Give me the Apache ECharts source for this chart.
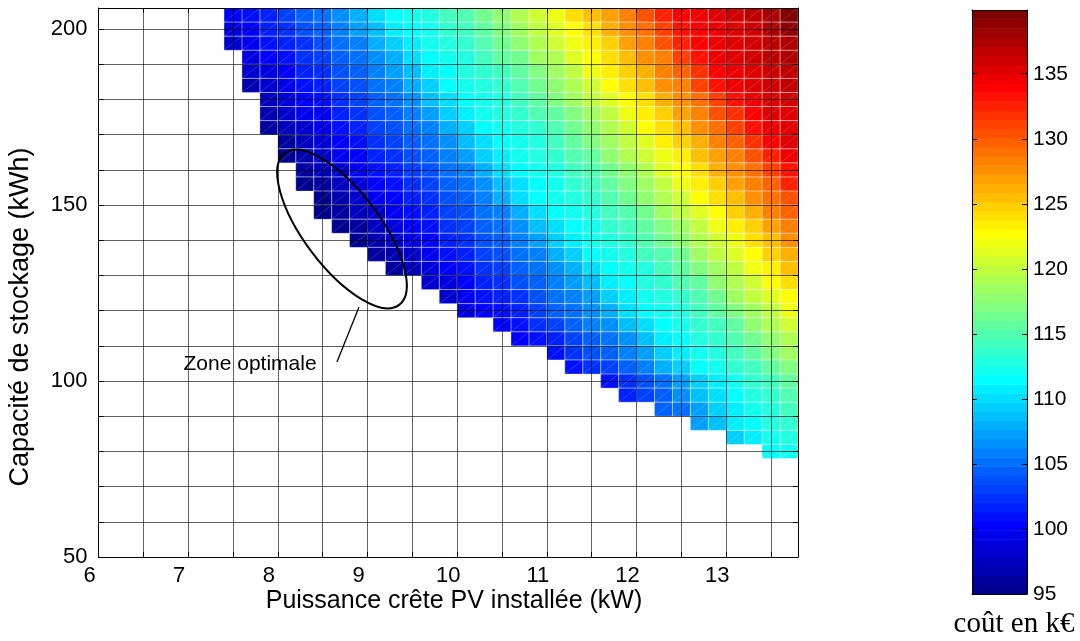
<!DOCTYPE html>
<html><head><meta charset="utf-8">
<script src="https://cdn.jsdelivr.net/npm/echarts@6/dist/echarts.min.js"></script>
<style>html,body{margin:0;padding:0;background:#fff}#c{width:1080px;height:641px}</style>
</head><body><div id="c"></div>
<script>
// ---- data ----
const xCenters = [7.5,7.7,7.9,8.1,8.3,8.5,8.7,8.9,9.1,9.3,9.5,9.7,9.9,10.1,10.3,10.5,10.7,10.9,11.1,11.3,11.5,11.7,11.9,12.1,12.3,12.5,12.7,12.9,13.1,13.3,13.5,13.7];
const yCenters = [204,200,196,192,188,184,180,176,172,168,164,160,156,152,148,144,140,136,132,128,124,120,116,112,108,104,100,96,92,88,84,80];
const rowFirstX = [7.5,7.5,7.5,7.7,7.7,7.7,7.9,7.9,7.9,8.1,8.1,8.3,8.3,8.5,8.5,8.7,8.9,9.1,9.3,9.7,9.9,10.1,10.5,10.7,11.1,11.3,11.7,11.9,12.3,12.7,13.1,13.5];
const costRows = [
 [100.0,101.0,102.0,103.1,104.2,105.3,106.4,108.2,110.0,111.5,112.3,113.0,114.0,115.2,116.5,118.0,119.2,120.8,122.3,123.8,125.3,127.0,128.0,130.5,132.3,133.8,134.5,135.0,135.8,136.5,137.5,139.9],
 [99.2,100.4,101.4,102.4,103.5,104.6,105.7,107.0,108.9,110.6,111.8,112.5,113.4,114.4,115.6,117.1,118.5,119.8,121.4,122.9,124.4,126.0,127.5,129.0,131.3,133.0,134.2,134.8,135.5,136.2,137.1,138.5],
 [98.3,99.6,100.7,101.7,102.7,103.8,104.9,106.0,107.7,109.5,111.1,112.1,112.8,113.7,114.9,116.2,117.6,119.0,120.5,122.0,123.5,125.1,126.8,128.0,130.1,132.2,133.7,134.7,135.3,136.1,136.8,137.7],
 [98.8,100.1,101.1,102.1,103.2,104.3,105.4,106.5,108.3,110.1,111.6,112.4,113.1,114.1,115.4,116.7,118.2,119.5,121.2,122.7,124.3,125.8,127.5,128.6,131.2,133.0,134.5,135.2,135.7,136.5,137.3],
 [97.9,99.2,100.4,101.4,102.4,103.5,104.6,105.7,107.1,109.0,110.6,111.8,112.6,113.5,114.6,115.9,117.3,118.8,120.2,121.7,123.3,124.9,126.5,128.0,129.6,132.0,133.7,134.9,135.6,136.2,137.0],
 [97.1,98.4,99.7,100.8,101.8,102.8,103.9,105.0,106.1,107.8,109.6,111.2,112.1,112.9,113.9,115.1,116.4,117.9,119.3,120.8,122.4,124.0,125.6,127.3,128.5,130.8,132.9,134.5,135.4,136.0,136.7],
 [97.5,98.8,100.1,101.1,102.1,103.2,104.3,105.4,106.6,108.4,110.2,111.6,112.4,113.2,114.2,115.4,116.8,118.3,119.6,121.3,122.8,124.4,126.0,127.7,129.2,131.4,133.2,134.6,135.4,135.9],
 [96.7,98.0,99.3,100.5,101.5,102.5,103.6,104.7,105.8,107.2,109.1,110.7,111.9,112.6,113.5,114.7,115.9,117.3,118.8,120.2,121.8,123.4,124.9,126.6,128.1,130.2,132.1,133.8,135.0,135.6],
 [95.9,97.2,98.5,99.8,100.8,101.8,102.8,103.9,105.1,106.2,107.9,109.7,111.2,112.2,112.9,113.9,115.1,116.4,117.9,119.3,120.9,122.4,124.1,125.6,127.4,128.9,130.9,132.9,134.4,135.4],
 [96.3,97.6,98.9,100.2,101.2,102.2,103.3,104.4,105.5,106.7,108.5,110.3,111.6,112.4,113.2,114.3,115.6,117.0,118.5,119.9,121.5,123.1,124.7,126.3,128.0,129.5,131.8,133.6,135.1],
 [95.5,96.8,98.1,99.4,100.5,101.5,102.5,103.6,104.7,105.8,107.3,109.2,110.8,111.9,112.7,113.6,114.8,116.0,117.5,119.0,120.5,122.1,123.7,125.3,127.0,128.6,130.4,132.6,134.3],
 [95.9,97.2,98.5,99.8,100.9,101.9,102.9,104.0,105.1,106.2,107.9,109.8,111.3,112.2,113.0,114.0,115.2,116.6,118.1,119.5,121.2,122.7,124.3,125.9,127.7,129.2,131.3,133.4],
 [95.0,96.4,97.7,99.0,100.2,101.2,102.2,103.3,104.4,105.5,106.8,108.6,110.3,111.7,112.5,113.3,114.4,115.7,117.2,118.7,120.1,121.8,123.4,125.0,126.6,128.3,129.9,132.3],
 [95.5,96.8,98.1,99.4,100.6,101.6,102.6,103.7,104.8,105.9,108.0,109.8,111.3,112.0,112.7,113.7,114.9,116.2,117.7,119.2,120.7,122.4,124.0,125.6,127.3,128.8,130.7],
 [95.0,95.9,97.2,98.5,99.8,100.9,101.9,102.9,104.0,105.1,106.2,107.9,109.8,111.3,112.2,113.0,114.0,115.3,116.7,118.2,119.6,121.3,122.9,124.5,126.2,128.0,129.4],
 [95.0,96.3,97.6,98.9,100.2,101.2,102.2,103.3,104.4,105.5,106.7,108.5,110.3,111.6,112.4,113.3,114.4,115.7,117.1,118.8,120.1,121.9,123.5,125.1,126.8,128.5],
 [95.4,96.7,98.0,99.3,100.5,101.5,102.5,103.6,104.7,105.8,107.2,109.1,110.7,111.9,112.6,113.6,114.8,116.1,117.6,119.2,120.7,122.3,124.0,125.6,127.4],
 [95.8,97.1,98.4,99.7,100.8,101.8,102.8,103.9,105.0,106.1,107.8,109.6,111.2,112.1,112.9,114.0,115.2,116.6,118.2,119.6,121.3,122.9,124.6,126.2],
 [96.2,97.5,98.8,100.1,101.1,102.1,103.2,104.3,105.4,106.5,108.3,110.1,111.6,112.4,113.2,114.3,115.6,117.1,118.7,120.1,121.9,123.5,125.2],
 [97.9,99.2,100.4,101.4,102.4,103.5,104.6,105.7,107.0,108.9,110.6,111.8,112.6,113.5,114.7,116.0,117.6,119.2,120.7,122.4,124.1],
 [98.3,99.6,100.7,101.7,102.7,103.8,104.9,106.0,107.6,109.4,111.1,112.0,112.9,113.9,115.2,116.5,118.2,119.6,121.3,123.0],
 [98.6,100.0,101.0,102.0,103.0,104.2,105.3,106.4,108.1,109.9,111.4,112.3,113.1,114.2,115.6,117.0,118.7,120.1,121.8],
 [100.3,101.3,102.3,103.4,104.5,105.6,106.9,108.7,110.4,111.7,112.5,113.4,114.6,116.0,117.5,119.2,120.6],
 [100.6,101.2,102.0,103.0,104.2,105.4,106.9,108.8,110.5,111.7,112.6,113.6,114.8,116.3,117.9,119.4],
 [101.2,102.3,103.5,104.7,105.9,107.6,109.5,111.1,112.1,113.0,114.0,115.4,116.9,118.5],
 [101.2,102.2,103.4,104.6,106.0,107.8,109.7,111.2,112.3,113.3,114.5,115.9,117.3],
 [100.8,102.2,103.6,105.5,107.6,109.5,111.0,112.2,113.3,114.6,116.0],
 [101.6,102.8,104.3,106.3,108.5,110.3,111.6,112.7,113.8,115.2],
 [104.2,105.4,107.4,109.4,111.0,112.1,113.1,114.3],
 [107.0,108.9,110.6,111.8,112.6,113.6],
 [109.4,111.0,112.0,112.9],
 [111.4,112.3]
];
const xTickLabels = [6,7,8,9,10,11,12,13];
const yTickLabels = [50,100,150,200];
const xTitle = 'Puissance crête PV installée (kW)';
const yTitle = 'Capacité de stockage (kWh)';
const cbarTitle = 'coût en k€';
// annotation (data units)
const zoneCenter = [8.715, 143.2];
const zonePointer = [[8.904, 121.0], [8.659, 105.4]];
const zoneLabelText = 'Zone optimale';
const zoneLabelPos = [7.69, 104.8];

// ---- build ----
const halfW = (xCenters[1] - xCenters[0]) / 2;
const halfH = (yCenters[0] - yCenters[1]) / 2;
const cells = [];
costRows.forEach((row, r) => {
  const start = xCenters.indexOf(rowFirstX[r]);
  row.forEach((v, j) => cells.push([xCenters[start + j], yCenters[r], v]));
});
let cmin = Infinity, cmax = -Infinity;
cells.forEach(c => { cmin = Math.min(cmin, c[2]); cmax = Math.max(cmax, c[2]); });

function jet(n) {
  const m = Math.ceil(n / 4), u = [];
  for (let i = 1; i <= m; i++) u.push(i / m);
  for (let i = 0; i < m - 1; i++) u.push(1);
  for (let i = m; i >= 1; i--) u.push(i / m);
  const g0 = Math.ceil(m / 2) - (n % 4 === 1 ? 1 : 0);
  const J = Array.from({length: n}, () => [0, 0, 0]);
  for (let i = 0; i < u.length; i++) {
    const g = g0 + i + 1, r = g + m, b = g - m;
    if (r >= 1 && r <= n) J[r - 1][0] = u[i];
    if (g >= 1 && g <= n) J[g - 1][1] = u[i];
    if (b >= 1 && b <= n) J[b - 1][2] = u[i];
  }
  return J.map(c => 'rgb(' + c.map(t => Math.round(t * 255)).join(',') + ')');
}
const cmap = jet(64);
function colorFor(v) {
  let i = Math.floor((v - cmin) / (cmax - cmin) * 64);
  return cmap[Math.max(0, Math.min(63, i))];
}

const FONT = "'Liberation Sans', Arial, Helvetica, sans-serif";
const gridLine = 'rgba(0,0,0,0.62)';

function renderFill(params, api) {
  const x = api.value(0), y = api.value(1), v = api.value(2);
  const p0 = api.coord([x - halfW, y + halfH]);
  const p1 = api.coord([x + halfW, y - halfH]);
  return {type: 'rect', shape: {x: p0[0], y: p0[1], width: p1[0] - p0[0], height: p1[1] - p0[1]},
    style: {fill: colorFor(v), stroke: null}};
}
function renderEdge(params, api) {
  const x = api.value(0), y = api.value(1);
  const p0 = api.coord([x - halfW, y + halfH]);
  const p1 = api.coord([x + halfW, y - halfH]);
  return {type: 'group', children: [
    {type: 'rect', shape: {x: p0[0], y: p0[1], width: p1[0] - p0[0], height: p1[1] - p0[1]},
      style: {fill: 'none', stroke: 'rgba(255,255,255,0.28)', lineWidth: 1}},
    {type: 'line', shape: {x1: p0[0], y1: p1[1], x2: p1[0], y2: p0[1]},
      style: {stroke: 'rgba(255,255,255,0.22)', lineWidth: 0.8}}
  ]};
}
function renderBar(params, api) {
  const i = api.value(0);
  const step = (cmax - cmin) / 64;
  const p0 = api.coord([0, cmin + (i + 1) * step]);
  const p1 = api.coord([1, cmin + i * step]);
  return {type: 'rect', shape: {x: p0[0], y: p0[1], width: p1[0] - p0[0], height: p1[1] - p0[1] + 0.5},
    style: {fill: cmap[i]}};
}
function renderZone(params, api) {
  const c = api.coord([api.value(0), api.value(1)]);
  const a = api.coord(zonePointer[0]), b = api.coord(zonePointer[1]);
  const t = api.coord(zoneLabelPos);
  return {type: 'group', children: [
    {type: 'ellipse', x: c[0], y: c[1], rotation: -0.925, shape: {cx: 0, cy: 0, rx: 95, ry: 38},
      style: {fill: 'none', stroke: '#000', lineWidth: 2}},
    {type: 'line', shape: {x1: a[0], y1: a[1], x2: b[0], y2: b[1]}, style: {stroke: '#000', lineWidth: 1.3}},
    {type: 'text', x: t[0], y: t[1], style: {text: zoneLabelText, font: '21px ' + FONT, fill: '#000',
      align: 'center', verticalAlign: 'middle', textAlign: 'center', textVerticalAlign: 'middle'}}
  ]};
}

const axBase = {z: 5, axisLine: {show: true, onZero: false, lineStyle: {color: '#000', width: 1}}};
const option = {
  animation: false,
  backgroundColor: '#fff',
  grid: [
    {left: 98.5, top: 8, width: 699.5, height: 549},
    {left: 972, top: 10, width: 55, height: 584}
  ],
  xAxis: [
    Object.assign({}, axBase, {gridIndex: 0, type: 'value', min: 6, max: 13.8, interval: 0.5,
      axisTick: {show: true, inside: true, length: 5, lineStyle: {color: '#000'}},
      axisLabel: {color: '#000', fontFamily: FONT, fontSize: 22, margin: 8, padding: [0, 18, 0, 0], showMaxLabel: false,
        formatter: v => xTickLabels.includes(v) ? String(v) : ''},
      splitLine: {show: true, lineStyle: {color: gridLine, width: 1}}}),
    Object.assign({}, axBase, {gridIndex: 0, type: 'value', position: 'top', min: 6, max: 13.8, interval: 0.5,
      axisTick: {show: true, inside: true, length: 5, lineStyle: {color: '#000'}},
      axisLabel: {show: false}, splitLine: {show: false}}),
    Object.assign({}, axBase, {gridIndex: 1, type: 'value', min: 0, max: 1,
      axisTick: {show: false}, axisLabel: {show: false}, splitLine: {show: false}}),
    Object.assign({}, axBase, {gridIndex: 1, type: 'value', position: 'top', min: 0, max: 1,
      axisTick: {show: false}, axisLabel: {show: false}, splitLine: {show: false}})
  ],
  yAxis: [
    Object.assign({}, axBase, {gridIndex: 0, type: 'value', min: 50, max: 206, interval: 10,
      axisTick: {show: true, inside: true, length: 5, lineStyle: {color: '#000'}},
      axisLabel: {color: '#000', fontFamily: FONT, fontSize: 22, margin: 11, showMaxLabel: false,
        formatter: v => yTickLabels.includes(v) ? String(v) : ''},
      splitLine: {show: true, lineStyle: {color: gridLine, width: 1}}}),
    Object.assign({}, axBase, {gridIndex: 0, type: 'value', position: 'right', min: 50, max: 206, interval: 10,
      axisTick: {show: true, inside: true, length: 5, lineStyle: {color: '#000'}},
      axisLabel: {show: false}, splitLine: {show: false}}),
    Object.assign({}, axBase, {gridIndex: 1, type: 'value', position: 'right', min: 95, max: cmax, interval: 5,
      axisTick: {show: true, inside: true, length: 5, lineStyle: {color: '#000'}},
      axisLabel: {color: '#000', fontFamily: FONT, fontSize: 21, margin: 6, showMaxLabel: false},
      splitLine: {show: false}}),
    Object.assign({}, axBase, {gridIndex: 1, type: 'value', position: 'left', min: 95, max: cmax, interval: 5,
      axisTick: {show: true, inside: true, length: 5, lineStyle: {color: '#000'}},
      axisLabel: {show: false}, splitLine: {show: false}})
  ],
  series: [
    {type: 'custom', xAxisIndex: 0, yAxisIndex: 0, data: cells, renderItem: renderFill, z: 2, silent: true, clip: true},
    {type: 'custom', xAxisIndex: 0, yAxisIndex: 0, data: cells, renderItem: renderEdge, z: 3, silent: true, clip: true},
    {type: 'custom', xAxisIndex: 2, yAxisIndex: 2, data: cmap.map((c, i) => [i]), renderItem: renderBar, z: 2, silent: true},
    {type: 'custom', xAxisIndex: 0, yAxisIndex: 0, data: [zoneCenter], renderItem: renderZone, z: 10, silent: true, clip: false}
  ],
  graphic: [
    {type: 'text', x: 21, y: 317, rotation: Math.PI / 2, z: 10,
      style: {text: yTitle, font: '27px ' + FONT, fill: '#000', align: 'center', verticalAlign: 'middle', textAlign: 'center', textVerticalAlign: 'middle'}},
    {type: 'text', x: 454, y: 601, z: 10,
      style: {text: xTitle, font: '25px ' + FONT, fill: '#000', align: 'center', verticalAlign: 'middle', textAlign: 'center', textVerticalAlign: 'middle'}},
    {type: 'text', x: 1014, y: 624, z: 10,
      style: {text: cbarTitle, font: "29px 'Liberation Serif', 'Times New Roman', serif", fill: '#000', align: 'center', verticalAlign: 'middle', textAlign: 'center', textVerticalAlign: 'middle'}}
  ]
};
const chart = echarts.init(document.getElementById('c'));
chart.setOption(option);
</script></body></html>
